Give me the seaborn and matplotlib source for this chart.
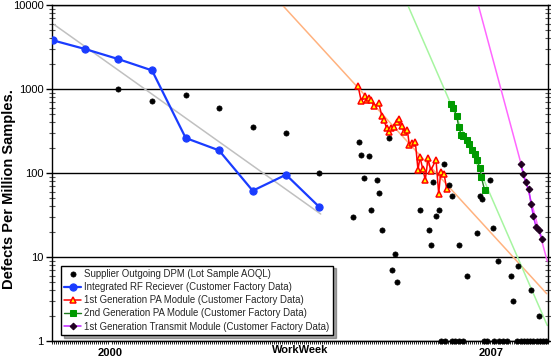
import numpy as np
import pandas as pd
import matplotlib
matplotlib.use("Agg")
import matplotlib.pyplot as plt
import seaborn as sns
from matplotlib.ticker import MultipleLocator, LogLocator, NullFormatter

sns.set_theme(style="white")
plt.rcParams['font.family'] = ['Liberation Sans', 'DejaVu Sans']

# ---------------- data (x = work-week index, y = DPM) ----------------
supplier_week = [66, 100, 133.7, 167, 200.7, 234, 267.3, 301.3, 306.5, 309, 311.5,
                 316.8, 319.3, 324.7, 327, 330, 337.3, 340, 342.7, 345.3, 368.3,
                 376.7, 378.7, 381.3, 384, 386.7, 391.8, 397, 399.5, 406.7, 414.7,
                 425.3, 427.5, 430, 438, 440.7, 446, 458.7, 461.3, 466.3, 479.3, 487.3,
                 389, 393, 400, 403, 407, 411, 432, 435, 442, 447, 451, 455,
                 465, 469, 472, 475, 478, 481, 485, 488, 491, 494]
supplier_dpm = [1000, 726, 849, 588, 353, 299, 100, 29.9, 236, 164, 87.4,
                158, 35.9, 83.2, 57.8, 20.7, 258, 7.06, 10.9, 4.98, 35.9,
                20.7, 14.0, 78.8, 31, 35.9, 128, 72, 52.7, 14.0, 5.99,
                19.3, 52.9, 49.0, 83.2, 21.9, 8.97, 5.99, 2.99, 7.88, 4.0, 2.0,
                1, 1, 1, 1, 1, 1, 1, 1, 1, 1, 1, 1,
                1, 1, 1, 1, 1, 1, 1, 1, 1, 1]

rf_week = [1, 33, 66, 100, 133.7, 167, 200.7, 234, 267.3]
rf_dpm = [3793, 2993, 2276, 1665, 261, 186, 61.5, 95.4, 39.4]

pa1_week = [306, 309.3, 312.7, 314.7, 317.3, 319.3, 322, 326.7, 330, 332, 334.7,
            337.3, 339.3, 342, 344.7, 347.3, 350, 352, 355.3, 357.3, 360, 363.3,
            366, 368, 370.7, 373.3, 376, 378.7, 384, 386.7, 388.7, 392, 394.7]
pa1_dpm = [1094, 712, 816, 732, 781, 732, 621, 681, 472, 423, 340,
           304, 346, 353, 408, 439, 359, 304, 328, 217, 228, 236,
           109, 155, 112, 83, 149, 107, 144, 56.7, 102, 98, 65]

pa2_week = [399.3, 401.3, 404.7, 406.7, 409.3, 411.3, 414.7, 417.3, 420, 423.3,
            424.7, 428, 429.3, 432.7]
pa2_dpm = [668, 599, 481, 353, 283, 273, 249, 223, 186, 170, 144, 116, 89.6, 62]

tx_week = [468.7, 471.3, 473.5, 476.7, 479, 481.3, 484, 487.3, 490]
tx_dpm = [127, 97.3, 77.7, 65, 43.1, 31, 22.8, 20.7, 16.4]

# trend lines (exponential fits as drawn), start / end
rf_trend_week = [2.3, 268.7]
rf_trend_dpm = [5826, 32.5]
pa1_trend_week = [230.3, 494.7]
pa1_trend_dpm = [10000, 3.66]
pa2_trend_week = [355.7, 495.3]
pa2_trend_dpm = [10000, 1.53]
tx_trend_week = [426.3, 495.3]
tx_trend_dpm = [10000, 8.87]

year_tick_pos = [58, 439.5]
year_tick_labels = ['2000', '2007']
y_ticks = [1, 10, 100, 1000, 10000]
y_tick_labels = ['1', '10', '100', '1000', '10000']

labels = ['Supplier Outgoing DPM (Lot Sample AOQL)',
          'Integrated RF Reciever (Customer Factory Data)',
          '1st Generation PA Module (Customer Factory Data)',
          '2nd Generation PA Module (Customer Factory Data)',
          '1st Generation Transmit Module (Customer Factory Data)']

# ---------------- figure ----------------
fig = plt.figure(figsize=(5.51, 3.59), dpi=100)
ax = fig.add_axes([52 / 551, 1 - 341 / 359, 496 / 551, 336 / 359])
ax.set_yscale('log')

# trend lines
for tw, td, col in [(rf_trend_week, rf_trend_dpm, '#c0c0c0'),
                    (pa1_trend_week, pa1_trend_dpm, '#ffb27f'),
                    (pa2_trend_week, pa2_trend_dpm, '#a6f5a0'),
                    (tx_trend_week, tx_trend_dpm, '#ff66ff')]:
    sns.lineplot(x=tw, y=td, color=col, lw=1.1, ax=ax, zorder=2, sort=False,
                 errorbar=None)

sns.scatterplot(x=supplier_week, y=supplier_dpm, color='black', s=14,
                marker='o', edgecolor='black', linewidth=0.5, ax=ax,
                clip_on=False, zorder=5, label=labels[0])

sns.lineplot(x=rf_week, y=rf_dpm, color='#1a3cff', lw=1.6, marker='o',
             markersize=5.2, markeredgecolor='#1a3cff', ax=ax, sort=False,
             errorbar=None, zorder=4, label=labels[1])
sns.lineplot(x=pa1_week, y=pa1_dpm, color='#ff0000', lw=1.1, marker='^',
             markersize=4.8, markerfacecolor='#ffff00', markeredgecolor='#ff0000',
             markeredgewidth=1.1, ax=ax, sort=False, errorbar=None, zorder=4,
             label=labels[2])
sns.lineplot(x=pa2_week, y=pa2_dpm, color='#1e7a1e', lw=1.0, marker='s',
             markersize=4.3, markerfacecolor='#009a00', markeredgecolor='#009a00',
             ax=ax, sort=False, errorbar=None, zorder=4, label=labels[3])
sns.lineplot(x=tx_week, y=tx_dpm, color='#c020ff', lw=1.1, marker='D',
             markersize=3.4, markerfacecolor='#200020', markeredgecolor='#200020',
             ax=ax, sort=False, errorbar=None, zorder=4, label=labels[4])

ax.set_xlim(0, 496)
ax.set_ylim(1, 10000)

ax.set_yticks(y_ticks)
ax.set_yticklabels(y_tick_labels)
ax.yaxis.set_minor_locator(LogLocator(base=10, subs=np.arange(2, 10)))
ax.yaxis.set_minor_formatter(NullFormatter())
ax.set_xticks(year_tick_pos)
ax.set_xticklabels(year_tick_labels, fontweight='bold', fontsize=8)
ax.xaxis.set_minor_locator(MultipleLocator(2))

ax.tick_params(axis='y', which='major', direction='out', length=4, width=1,
               left=True, right=True, labelsize=8, colors='black', pad=2)
ax.tick_params(axis='y', which='minor', direction='inout', length=4, width=0.8,
               left=True, right=True, color='#555555')
ax.tick_params(axis='x', which='major', length=0, pad=5, labelcolor='black')
ax.tick_params(axis='x', which='minor', direction='out', length=2.2, width=0.6,
               bottom=True, color='black')

ax.yaxis.grid(True, which='major', color='black', lw=1)
ax.xaxis.grid(False)
ax.set_axisbelow(True)
for s in ax.spines.values():
    s.set_color('black')
    s.set_linewidth(1)

ax.set_ylabel('Defects Per Million Samples.', fontweight='bold', fontsize=10.5,
              color='black')
ax.yaxis.set_label_coords(-0.072, 0.452)
ax.set_xlabel('WorkWeek', fontweight='bold', fontsize=8, color='black',
              labelpad=-9.3)

handles, labs = ax.get_legend_handles_labels()
order = [labs.index(l) for l in labels]
leg = ax.legend([handles[i] for i in order], [labs[i] for i in order],
                loc='lower left', bbox_to_anchor=(0.018, 0.018),
                borderaxespad=0, fontsize=6.9, frameon=True, fancybox=False,
                shadow=True, edgecolor='black', framealpha=1,
                handlelength=1.75, handletextpad=0.35, labelspacing=0.33,
                borderpad=0.35, scatterpoints=1)
leg.get_frame().set_linewidth(1)
leg.set_zorder(10)

fig.savefig('out.png', dpi=100)
